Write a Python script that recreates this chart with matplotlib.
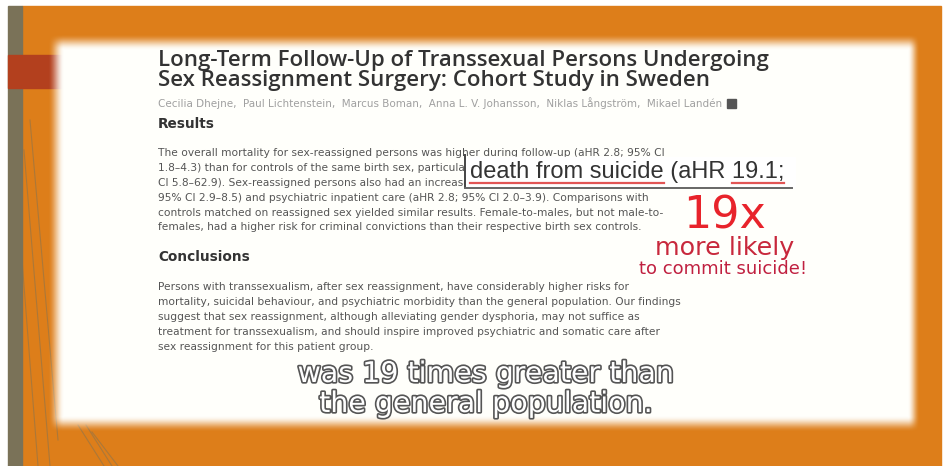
"""Recreate the orange slide with the Dhejne et al. abstract and the 19x callout."""

import matplotlib
matplotlib.use("Agg")
import matplotlib.pyplot as plt
import matplotlib.patheffects as pe
import numpy as np
from matplotlib.patches import Rectangle

TITLE_LINES = [
    "Long-Term Follow-Up of Transsexual Persons Undergoing",
    "Sex Reassignment Surgery: Cohort Study in Sweden",
]
AUTHORS = ("Cecilia Dhejne,  Paul Lichtenstein,  Marcus Boman,  Anna L. V. Johansson,  "
           "Niklas Långström,  Mikael Landén")
RESULTS_LINES = [
    "The overall mortality for sex-reassigned persons was higher during follow-up (aHR 2.8; 95% CI",
    "1.8–4.3) than for controls of the same birth sex, particularly death from suicide (aHR 19.1; 95%",
    "CI 5.8–62.9). Sex-reassigned persons also had an increased risk for suicide attempts (aHR 4.9;",
    "95% CI 2.9–8.5) and psychiatric inpatient care (aHR 2.8; 95% CI 2.0–3.9). Comparisons with",
    "controls matched on reassigned sex yielded similar results. Female-to-males, but not male-to-",
    "females, had a higher risk for criminal convictions than their respective birth sex controls.",
]
CONCLUSION_LINES = [
    "Persons with transsexualism, after sex reassignment, have considerably higher risks for",
    "mortality, suicidal behaviour, and psychiatric morbidity than the general population. Our findings",
    "suggest that sex reassignment, although alleviating gender dysphoria, may not suffice as",
    "treatment for transsexualism, and should inspire improved psychiatric and somatic care after",
    "sex reassignment for this patient group.",
]
CALLOUT_TEXT = "death from suicide (aHR 19.1;"
CALLOUT_MARKED = ["death from suicide", "19.1;"]
BIG_RATIO = "19x"
RATIO_LINES = ["more likely", "to commit suicide!"]
CAPTION_LINES = ["was 19 times greater than", "the general population."]

W, H = 943, 466
ORANGE = "#DD7E1A"
OLIVE = "#7A7258"
DARK_RED = "#B3401E"
BODY = dict(fontsize=7.7, family="DejaVu Sans", color="#555555", va="center", zorder=3)
HEAD = dict(fontsize=9.8, family="DejaVu Sans", weight="bold", color="#333333",
            va="center", zorder=3)


def smooth(v):
    v = np.clip(v, 0, 1)
    return v * v * (3 - 2 * v)


def main() -> None:
    fig = plt.figure(figsize=(W / 100, H / 100), dpi=100)
    fig.patch.set_facecolor("white")
    ax = fig.add_axes([0, 0, 1, 1])
    ax.set_xlim(0, W)
    ax.set_ylim(H, 0)
    ax.axis("off")

    # slide background
    ax.add_patch(Rectangle((22, 6), 919, 460, color=ORANGE, zorder=0))
    ax.add_patch(Rectangle((8, 6), 14, 460, color=OLIVE, zorder=1))
    ax.add_patch(Rectangle((8, 55), 54, 33, color=DARK_RED, zorder=1))

    # thin decorative strokes
    for x0, y0, x1, y1 in [(24, 150, 50, 466), (30, 120, 58, 440), (22, 260, 38, 466),
                           (78, 425, 104, 466), (86, 425, 112, 466), (92, 432, 118, 466)]:
        ax.plot([x0, x1], [y0, y1], color=OLIVE, lw=0.8, alpha=0.5, zorder=1)

    # white panel with soft edges
    xs = np.arange(W) + 0.5
    ys = np.arange(H) + 0.5
    ax_alpha = smooth((xs - 48) / 16) * smooth((920 - xs) / 12)
    ay_alpha = smooth((ys - 34) / 16) * smooth((432 - ys) / 16)
    panel = np.ones((H, W, 4))
    panel[..., 2] = 0.985
    panel[..., 3] = np.outer(ay_alpha, ax_alpha)
    ax.imshow(panel, extent=(0, W, H, 0), origin="upper", zorder=2, aspect="auto",
              interpolation="bilinear")
    ax.set_xlim(0, W)
    ax.set_ylim(H, 0)

    # abstract text
    for i, line in enumerate(TITLE_LINES):
        ax.text(158, 66 + i * 20, line, fontsize=16.0, family="Open Sans", weight="semibold",
                color="#333333", va="baseline", zorder=3)
    ax.text(158, 103, AUTHORS, fontsize=7.5, family="DejaVu Sans", color="#a0a0a0",
            va="center", zorder=3)
    ax.add_patch(Rectangle((727, 98.5), 9, 9, color="#555555", zorder=3))
    ax.text(158, 124, "Results", **HEAD)
    for i, line in enumerate(RESULTS_LINES):
        ax.text(158, 153 + i * 14.9, line, **BODY)
    ax.text(158, 257, "Conclusions", **HEAD)
    for i, line in enumerate(CONCLUSION_LINES):
        ax.text(158, 287 + i * 14.9, line, **BODY)

    # zoomed callout box
    ax.add_patch(Rectangle((465, 157), 330, 30, color="white", zorder=4))
    ax.plot([465, 465], [155, 187], color="#444444", lw=1.4, zorder=5)
    ax.plot([465, 792], [187.5, 187.5], color="#666666", lw=1.4, zorder=5)
    callout_style = dict(fontsize=17, family="Liberation Sans", color="#333333", va="center")
    callout = ax.text(470, 172, CALLOUT_TEXT, zorder=5, **callout_style)

    # red underlines measured from the rendered callout text
    fig.canvas.draw()
    renderer = fig.canvas.get_renderer()
    inv = ax.transData.inverted()
    full = callout.get_window_extent(renderer)
    x_start = inv.transform((full.x0, full.y0))[0]
    x_end = inv.transform((full.x1, full.y0))[0]
    widths = []
    for piece in CALLOUT_MARKED:
        probe = ax.text(0, 0, piece, **callout_style)
        bb = probe.get_window_extent(renderer)
        widths.append(inv.transform((bb.x1, 0))[0] - inv.transform((bb.x0, 0))[0])
        probe.remove()
    ax.plot([x_start, x_start + widths[0]], [183, 183], color="#E25555", lw=1.6, zorder=6)
    ax.plot([x_end - widths[1], x_end], [183, 183], color="#E25555", lw=1.6, zorder=6)

    # red emphasis
    ax.text(725, 216, BIG_RATIO, fontsize=32, family="DejaVu Sans", color="#E8232B",
            ha="center", va="center", zorder=5)
    ax.text(725, 248, RATIO_LINES[0], fontsize=18.3, family="DejaVu Sans", color="#C8283C",
            ha="center", va="center", zorder=5)
    ax.text(723, 269, RATIO_LINES[1], fontsize=13, family="DejaVu Sans", color="#C02040",
            ha="center", va="center", zorder=5)

    # outlined caption
    for i, line in enumerate(CAPTION_LINES):
        ax.text(486, 374 + i * 30, line, fontsize=20.5, family="DejaVu Sans", color="white",
                ha="center", va="center", zorder=6,
                path_effects=[pe.withStroke(linewidth=2.4, foreground="#555555")])

    fig.savefig("out.png", dpi=100)
    plt.close(fig)


if __name__ == "__main__":
    main()
